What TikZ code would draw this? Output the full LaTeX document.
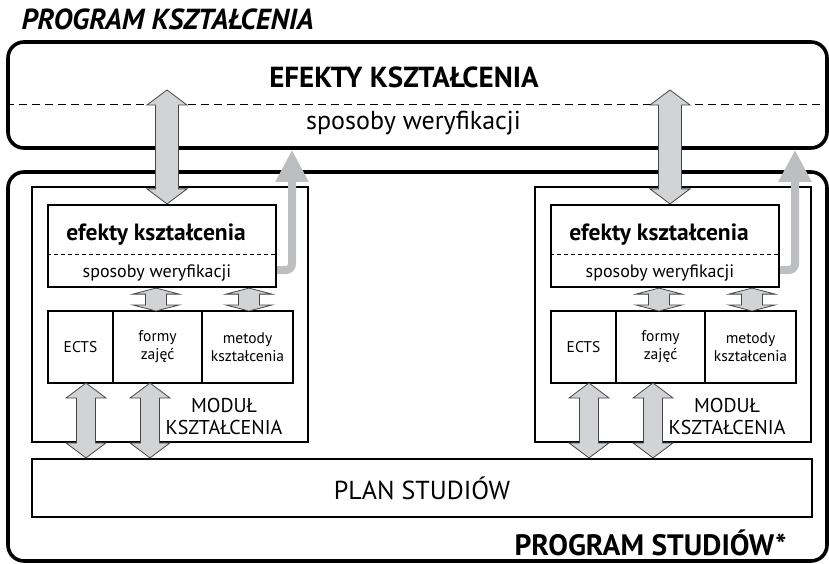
\documentclass[tikz,border=0pt]{standalone}
\usepackage{fontspec}
\setmainfont{PT Sans}
\usetikzlibrary{arrows.meta,calc,positioning}
\definecolor{arrFill}{RGB}{209,211,212}
\definecolor{arrEdge}{RGB}{70,70,72}
\definecolor{backArr}{RGB}{188,190,192}

\tikzset{
  outerbox/.style={draw, line width=3.6pt, rounded corners=16pt, inner sep=0pt},
  framebox/.style={draw, line width=2.2pt, inner sep=0pt},
  cellbox/.style={draw, line width=2pt, inner sep=0pt, outer sep=0pt, align=center,
    minimum height=72pt, font=\fontsize{15.5}{18}\selectfont},
  dblarr/.style={fill=arrFill, draw=arrEdge, line width=0.8pt, line join=miter},
  backarr/.style={draw=backArr, line width=8pt, rounded corners=6pt,
    -{Triangle[width=31pt,length=32pt]}},
}

% #1 upper tip, #2 lower tip, #3 half shaft, #4 half head, #5 head length
\newcommand{\dblarrow}[5]{%
  \draw[dblarr] let \p1=#1, \p2=#2 in
    (\x1,\y1) -- (\x1-#4pt,\y1-#5pt) -- (\x1-#3pt,\y1-#5pt)
    -- (\x1-#3pt,\y2+#5pt) -- (\x1-#4pt,\y2+#5pt) -- (\x1,\y2)
    -- (\x1+#4pt,\y2+#5pt) -- (\x1+#3pt,\y2+#5pt)
    -- (\x1+#3pt,\y1-#5pt) -- (\x1+#4pt,\y1-#5pt) -- cycle;}

\begin{document}
\begin{tikzpicture}[x=1pt,y=1pt]
    \useasboundingbox (0,0) rectangle (829,563);

    \node[anchor=base west, font=\bfseries\itshape\fontsize{29}{32}\selectfont] (title) at (18,533) {PROGRAM KSZTAŁCENIA};

    % program ksztalcenia
    \node[outerbox, minimum width=819pt, minimum height=106pt] (topbox) at (417.5,468) {};
    \draw[dash pattern=on 8pt off 5pt, line width=1pt] (topbox.west |- 0,458) -- (topbox.east |- 0,458);
    \node[anchor=base, font=\bfseries\fontsize{29}{32}\selectfont] (topeff) at (404,475) {EFEKTY KSZTAŁCENIA};
    \node[anchor=base, font=\fontsize{26}{30}\selectfont] (topver) at (413.5,433) {sposoby weryfikacji};
    \coordinate (uptip) at (0,473);

    % program studiow
    \node[outerbox, minimum width=819pt, minimum height=389pt] (lowbox) at (417.5,196.5) {};
    \node[framebox, minimum width=780pt, minimum height=58pt, font=\fontsize{26}{30}\selectfont] (plan) at (422,75) {PLAN STUDIÓW};
    \node[anchor=base east, font=\bfseries\fontsize{29.5}{32}\selectfont] (foot) at (790,8) {PROGRAM STUDIÓW*};

    \foreach \m/\dx in {L/32,R/535}{
      \node[framebox, minimum width=276pt, minimum height=255pt] (mod\m) at (\dx+138,248.5) {};
      \node[framebox, minimum width=228pt, minimum height=82pt] (eff\m) at (\dx+130,317) {};
      \draw[dash pattern=on 4pt off 3pt, line width=0.7pt] (eff\m.west |- 0,309) -- (eff\m.east |- 0,309);
      \node[anchor=base, font=\bfseries\fontsize{23.5}{26}\selectfont] (efft\m) at (\dx+124,323) {efekty kształcenia};
      \node[anchor=base, font=\fontsize{18}{22}\selectfont] (effv\m) at (\dx+125,286) {sposoby weryfikacji};

      \node[cellbox, minimum width=65pt] (ects\m) at (\dx+48.5,216) {ECTS};
      \node[cellbox, minimum width=89pt, right=0pt of ects\m] (form\m) {formy\\zajęć};
      \node[cellbox, minimum width=91pt, right=0pt of form\m] (meth\m) {metody\\kształcenia};
      \node[align=center, font=\fontsize{20}{22}\selectfont] (modt\m) at (\dx+192,147) {MODUŁ\\KSZTAŁCENIA};

      \draw[backarr] (eff\m.east |- 0,293) -- (\dx+260,293) -- (\dx+260,0 |- topbox.south);

      \dblarrow{(\dx+124,0 |- eff\m.south)}{(\dx+124,0 |- form\m.north)}{10.5}{23}{6}
      \dblarrow{(\dx+217,0 |- eff\m.south)}{(\dx+217,0 |- meth\m.north)}{10.5}{23}{6}
      \dblarrow{(\dx+54,0 |- ects\m.south)}{(\dx+54,0 |- plan.north)}{9.5}{20}{15}
      \dblarrow{(\dx+118,0 |- form\m.south)}{(\dx+118,0 |- plan.north)}{9.5}{20}{15}
      \dblarrow{(\dx+135,0 |- uptip)}{(\dx+135,0 |- eff\m.north)}{11.5}{20}{15}
    }
\end{tikzpicture}
\end{document}
